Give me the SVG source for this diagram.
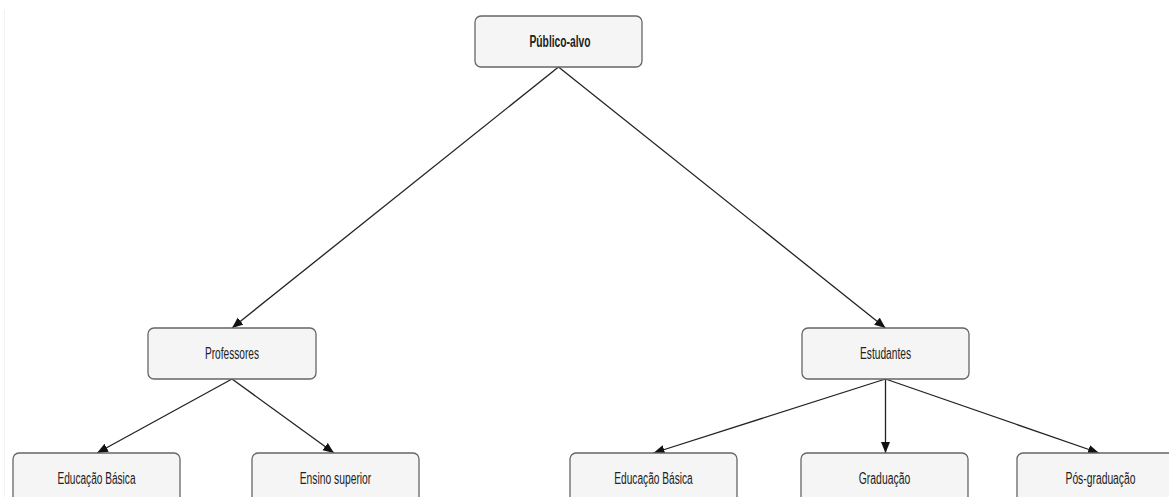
<svg xmlns="http://www.w3.org/2000/svg" width="1169" height="497" viewBox="0 0 1169 497">
<style>
.node rect{fill:#f5f5f5;stroke:#666666;stroke-width:1.3}
.node text{font-family:"Liberation Sans",Arial,sans-serif;font-size:16px;fill:#222222;text-anchor:middle}
.edge{stroke:#222222;stroke-width:1.3;fill:none;marker-end:url(#arr)}
</style>
<defs>
<marker id="arr" markerUnits="userSpaceOnUse" markerWidth="12" markerHeight="10" refX="11" refY="4.5" orient="auto">
<path d="M0,0 L11,4.5 L0,9 Z" fill="#111111"/>
</marker>
</defs>
<rect x="0" y="0" width="1169" height="497" fill="#ffffff"/>
<line x1="4.5" y1="10" x2="4.5" y2="497" stroke="#f2f2f2" stroke-width="1"/>
<g id="connectors">
<line class="edge" x1="558.5" y1="67" x2="232" y2="328"/>
<line class="edge" x1="558.5" y1="67" x2="885.5" y2="328"/>
<line class="edge" x1="232" y1="379" x2="97" y2="453"/>
<line class="edge" x1="232" y1="379" x2="334" y2="453"/>
<line class="edge" x1="885.5" y1="379" x2="653.5" y2="453"/>
<line class="edge" x1="885.5" y1="379" x2="885.5" y2="453"/>
<line class="edge" x1="885.5" y1="379" x2="1099" y2="453"/>
</g>
<g id="publico-alvo" class="node">
<rect x="475" y="16" width="167" height="51" rx="6"/>
<text x="560" y="46.7" font-weight="bold" textLength="61" lengthAdjust="spacingAndGlyphs">Público-alvo</text>
</g>
<g id="professores" class="node">
<rect x="148" y="328" width="168" height="51" rx="6"/>
<text x="232" y="358.5" textLength="54" lengthAdjust="spacingAndGlyphs">Professores</text>
</g>
<g id="estudantes" class="node">
<rect x="802" y="328" width="167" height="51" rx="6"/>
<text x="885.5" y="358.5" textLength="51" lengthAdjust="spacingAndGlyphs">Estudantes</text>
</g>
<g id="prof-educacao-basica" class="node">
<rect x="13" y="453" width="167" height="51" rx="6"/>
<text x="96.5" y="483.5" textLength="78" lengthAdjust="spacingAndGlyphs">Educação Básica</text>
</g>
<g id="prof-ensino-superior" class="node">
<rect x="252" y="453" width="167" height="51" rx="6"/>
<text x="335.5" y="483.5" textLength="71.5" lengthAdjust="spacingAndGlyphs">Ensino superior</text>
</g>
<g id="est-educacao-basica" class="node">
<rect x="570" y="453" width="167" height="51" rx="6"/>
<text x="653.5" y="483.5" textLength="78.5" lengthAdjust="spacingAndGlyphs">Educação Básica</text>
</g>
<g id="est-graduacao" class="node">
<rect x="801" y="453" width="167" height="51" rx="6"/>
<text x="884.5" y="483.5" textLength="51.5" lengthAdjust="spacingAndGlyphs">Graduação</text>
</g>
<g id="est-pos-graduacao" class="node">
<rect x="1017" y="453" width="167" height="51" rx="6"/>
<text x="1100.5" y="483.5" textLength="70" lengthAdjust="spacingAndGlyphs">Pós-graduação</text>
</g>
</svg>
